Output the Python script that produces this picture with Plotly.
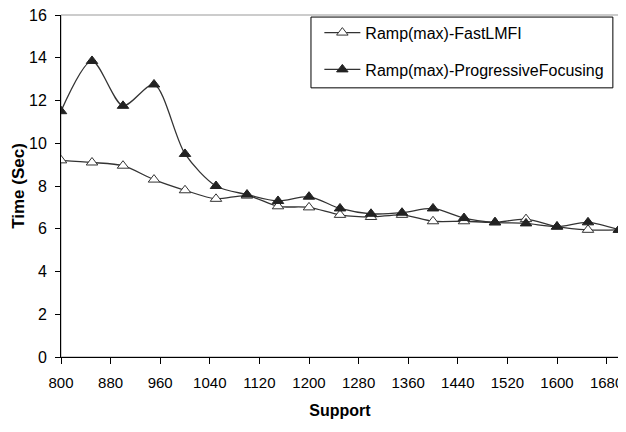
import plotly.graph_objects as go

support = [800, 850, 900, 950, 1000, 1050, 1100, 1150, 1200, 1250, 1300, 1350,
           1400, 1450, 1500, 1550, 1600, 1650, 1700]
fast_lmfi = [9.2, 9.1, 8.95, 8.3, 7.8, 7.4, 7.55, 7.05, 7.0, 6.65, 6.55, 6.65,
             6.35, 6.35, 6.3, 6.45, 6.1, 5.95, 5.95]
progressive = [11.5, 13.85, 11.75, 12.75, 9.5, 8.0, 7.6, 7.3, 7.5, 6.95, 6.7, 6.75,
               6.95, 6.5, 6.3, 6.25, 6.1, 6.3, 5.95]
x_ticks = list(range(800, 1700, 80))
y_ticks = list(range(0, 17, 2))

FONT = "Arial, Liberation Sans, sans-serif"

fig = go.Figure()
fig.add_trace(go.Scatter(
    x=support, y=fast_lmfi, mode="lines+markers", name="Ramp(max)-FastLMFI",
    line=dict(color="#333333", width=1.3, shape="spline", smoothing=0.8),
    marker=dict(symbol="triangle-up", size=10, color="white",
                line=dict(color="#333333", width=1)),
    legendgroup="a"))
fig.add_trace(go.Scatter(
    x=support, y=progressive, mode="lines+markers", name="Ramp(max)-ProgressiveFocusing",
    line=dict(color="#333333", width=1.3, shape="spline", smoothing=0.8),
    marker=dict(symbol="triangle-up", size=10, color="#222222",
                line=dict(color="#222222", width=1)),
    legendgroup="b"))

# plot-area frame (grey) and legend box
fig.add_shape(type="rect", xref="paper", yref="paper", x0=0, y0=0, x1=1, y1=1,
              line=dict(color="#999999", width=1), layer="below")
fig.add_shape(type="rect", xref="paper", yref="paper", x0=0.448, y0=0.787,
              x1=0.989, y1=0.994, line=dict(color="black", width=1),
              fillcolor="white", layer="below")

fig.update_layout(
    width=618, height=416,
    margin=dict(l=53, r=7, t=7, b=67),
    paper_bgcolor="white", plot_bgcolor="white",
    font=dict(family=FONT, size=16, color="black"),
    showlegend=True,
    legend=dict(x=0.463, y=0.998, xanchor="left", yanchor="top",
                borderwidth=0, bgcolor="rgba(0,0,0,0)", itemwidth=36,
                font=dict(size=16), tracegroupgap=13, traceorder="grouped"),
    xaxis=dict(range=[800, 1700], tickvals=x_ticks, ticks="outside", ticklen=6,
               tickcolor="black", showline=True, linecolor="black", linewidth=1,
               showgrid=False, zeroline=False, ticklabelstandoff=6,
               tickfont=dict(size=15),
               ticklabeloverflow="allow", automargin=False,
               title=dict(text="<b>Support</b>", font=dict(size=16), standoff=14)),
    yaxis=dict(range=[0, 16], tickvals=y_ticks, ticks="outside", ticklen=5,
               tickcolor="black", showline=True, linecolor="black", linewidth=1,
               showgrid=False, zeroline=False, ticklabelstandoff=5,
               ticklabeloverflow="allow", automargin=False,
               title=dict(text="<b>Time (Sec)</b>", font=dict(size=17), standoff=0)),
)

fig.write_html("out.html")
